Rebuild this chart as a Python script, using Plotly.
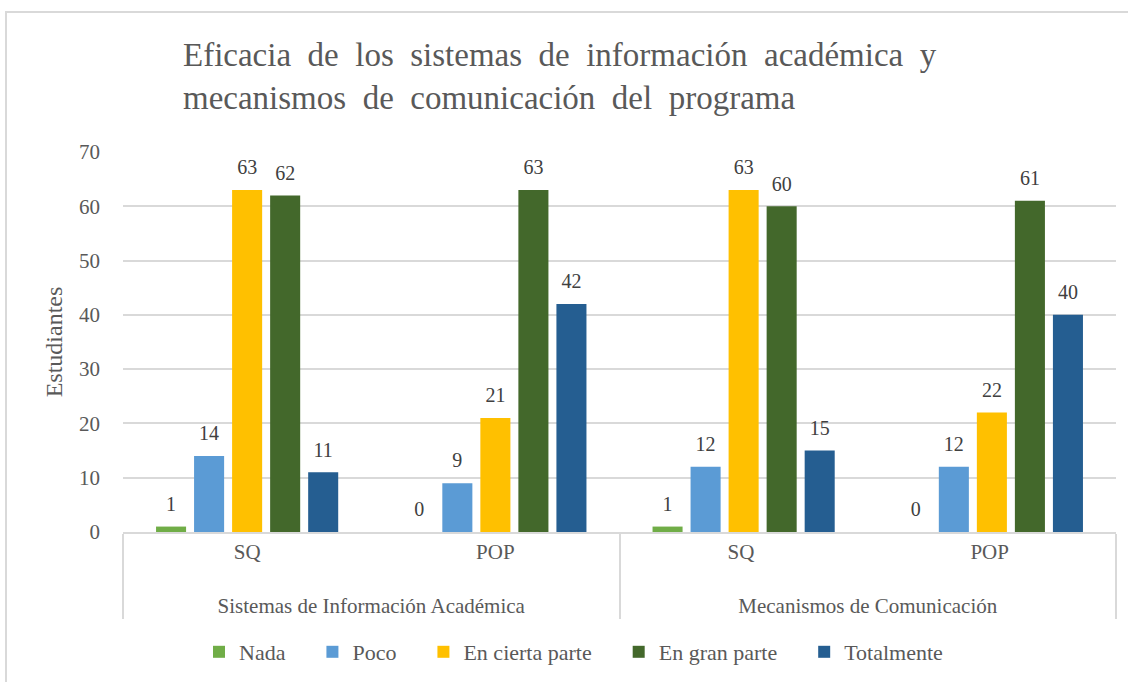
import plotly.graph_objects as go

groups = ["<br>Sistemas de Información Académica", "<br>Sistemas de Información Académica",
          "<br>Mecanismos de Comunicación", "<br>Mecanismos de Comunicación"]
subcats = ["SQ", "POP", "SQ ", "POP "]
series_names = ["Nada", "Poco", "En cierta parte", "En gran parte", "Totalmente"]
nada = [1, 0, 1, 0]
poco = [14, 9, 12, 12]
cierta = [63, 21, 63, 22]
gran = [62, 63, 60, 61]
total = [11, 42, 15, 40]
colors = ["#70AD47", "#5B9BD5", "#FFC000", "#43682B", "#255E91"]

FONT = "Liberation Serif"
W, H = 1128, 682
L, R, T, B = 123, 12, 152, 150
PAD = "\u00a0" * 4
LABEL_LIFT = 1.6  # extra gap (data units) between bar top and its value label

fig = go.Figure()
for i, (name, vals, col) in enumerate(zip(series_names, [nada, poco, cierta, gran, total], colors)):
    fig.add_trace(go.Bar(
        name=name + PAD if name != series_names[-1] else name,
        x=[groups, subcats],
        y=vals,
        offsetgroup=str(i),
        marker=dict(color=col, line=dict(width=0)),
        hoverinfo="skip",
    ))
    # transparent spacer carrying the value label slightly above the bar
    fig.add_trace(go.Bar(
        x=[groups, subcats],
        y=[LABEL_LIFT] * len(vals),
        base=vals,
        offsetgroup=str(i),
        marker=dict(color="rgba(0,0,0,0)", line=dict(width=0)),
        text=[str(v) for v in vals],
        textposition="outside",
        constraintext="none",
        textfont=dict(family=FONT, size=20, color="#404040"),
        cliponaxis=False,
        showlegend=False,
        hoverinfo="skip",
    ))

pw = W - L - R
ph = H - T - B

def px_x(x):
    return (x - L) / pw

def px_y(y):
    return (H - B - y) / ph

fig.update_layout(
    width=W, height=H,
    margin=dict(l=L, r=R, t=T, b=B, autoexpand=False),
    paper_bgcolor="white",
    plot_bgcolor="white",
    barmode="group",
    bargap=0.234,
    bargroupgap=0.21,
    font=dict(family=FONT, color="#595959"),
    title=dict(
        text="Eficacia  de  los  sistemas  de  información  académica  y<br>mecanismos  de  comunicación  del  programa",
        font=dict(family=FONT, size=33, color="#595959"),
        x=183 / W, xanchor="left", xref="container",
        y=1 - 66 / H, yanchor="top", yref="container",
    ),
    yaxis=dict(
        range=[0, 70], dtick=10,
        automargin=False,
        showgrid=True, gridcolor="#d9d9d9", gridwidth=2,
        zeroline=False,
        tickfont=dict(family=FONT, size=21, color="#595959"),
        ticklabelstandoff=22,
        title=dict(text="Estudiantes", font=dict(family=FONT, size=24, color="#595959"), standoff=9),
    ),
    xaxis=dict(
        type="multicategory",
        automargin=False,
        showline=True, linecolor="#d9d9d9", linewidth=2,
        showdividers=True, dividercolor="#d9d9d9", dividerwidth=2,
        ticks="outside", ticklen=7, tickcolor="rgba(0,0,0,0)",
        tickfont=dict(family=FONT, size=21, color="#595959"),
        showgrid=False,
    ),
    legend=dict(
        orientation="h",
        x=px_x(199), xanchor="left",
        y=px_y(652), yanchor="middle",
        font=dict(family=FONT, size=22, color="#595959"),
        traceorder="normal",
        itemwidth=30,
    ),
    shapes=[dict(
        type="rect", xref="paper", yref="paper",
        x0=px_x(6), x1=px_x(1170), y0=px_y(720), y1=px_y(12),
        line=dict(color="#d9d9d9", width=2), layer="below",
    )],
)

fig.write_html("out.html", config={"displayModeBar": False},
               post_script="document.body.style.margin='0';")
